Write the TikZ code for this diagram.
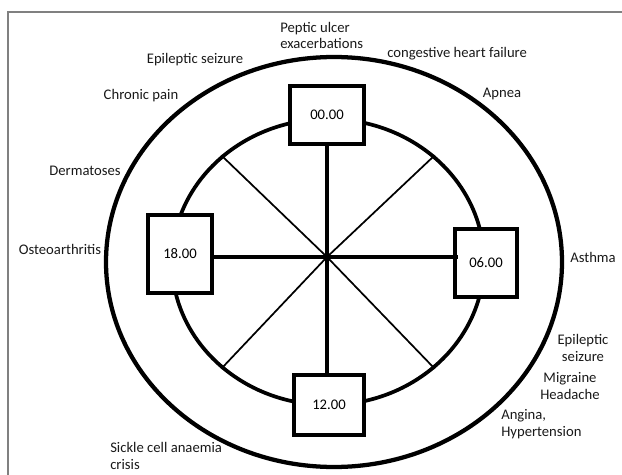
\documentclass[tikz,border=0pt]{standalone}
\usepackage{fontspec}
\setmainfont{Carlito}
\usepackage{tikz}
\usetikzlibrary{shapes.geometric,calc}
\tikzset{
  ring/.style    = {draw, ellipse, inner sep=0pt, line width=3.2pt},
  hourbox/.style = {draw, line width=3pt, fill=white, inner sep=0pt,
                    font=\fontsize{11}{13}\selectfont},
  spoke/.style   = {line width=2.6pt},
  ray/.style     = {line width=1.3pt},
  lbl/.style     = {inner sep=0pt, font=\fontsize{11}{12.4}\selectfont, text=black!90},
  frame/.style   = {draw=gray, line width=1.2pt},
}

\begin{document}
\begin{tikzpicture}[x=0.75pt,y=-0.75pt]
  \useasboundingbox (0,0) rectangle (622,475);
  \draw[frame] (8,480) |- (630,12);

  % the two rings and the hub
  \node[ring, minimum width=342pt, minimum height=307.5pt] (outer) at (334,262) {};
  \node[ring, line width=2.8pt, minimum width=234pt, minimum height=214.5pt] (inner) at (328,262) {};
  \coordinate (hub) at (327,257);

  % hour boxes
  \node[hourbox, minimum width=55.5pt, minimum height=44pt] (b00) at (327,115) {00.00};
  \node[hourbox, minimum width=47.5pt, minimum height=59pt] (b18) at (180,254) {18.00};
  \node[hourbox, minimum width=46.5pt, minimum height=51pt] (b06) at (486,263) {06.00};
  \node[hourbox, minimum width=52.5pt, minimum height=45pt] (b12) at (329,405) {12.00};

  % spokes
  \foreach \a in {45,135,225,315}
    \draw[ray] (hub) -- (inner.\a);
  \draw[spoke] (hub -| b18.east) -- ($(hub -| b06.west)+(5,0)$);
  \draw[spoke] (hub |- b00.south) -- (hub |- b12.north);

  % conditions round the clock
  \node[lbl, anchor=west, align=left] (peptic) at (280,35.5) {Peptic ulcer\\exacerbations};
  \node[lbl, anchor=west] (chf) at (387,54) {congestive heart failure};
  \node[lbl] (epiltop) at (195,60) {Epileptic seizure};
  \node[lbl] (apnea) at (502,94) {Apnea};
  \node[lbl] (chronic) at (141,96) {Chronic pain};
  \node[lbl] (derm) at (85,171) {Dermatoses};
  \node[lbl] (osteo) at (60,249) {Osteoarthritis};
  \node[lbl] (asthma) at (593,257) {Asthma};
  \node[lbl, align=center] (epilbot) at (583,348) {Epileptic\\seizure};
  \node[lbl, align=center] (migraine) at (570,386) {Migraine\\Headache};
  \node[lbl, anchor=west, align=left] (angina) at (501,424) {Angina,\\Hypertension};
  \node[lbl, anchor=west, align=left] (sickle) at (110,456) {Sickle cell anaemia\\crisis};
\end{tikzpicture}
\end{document}
